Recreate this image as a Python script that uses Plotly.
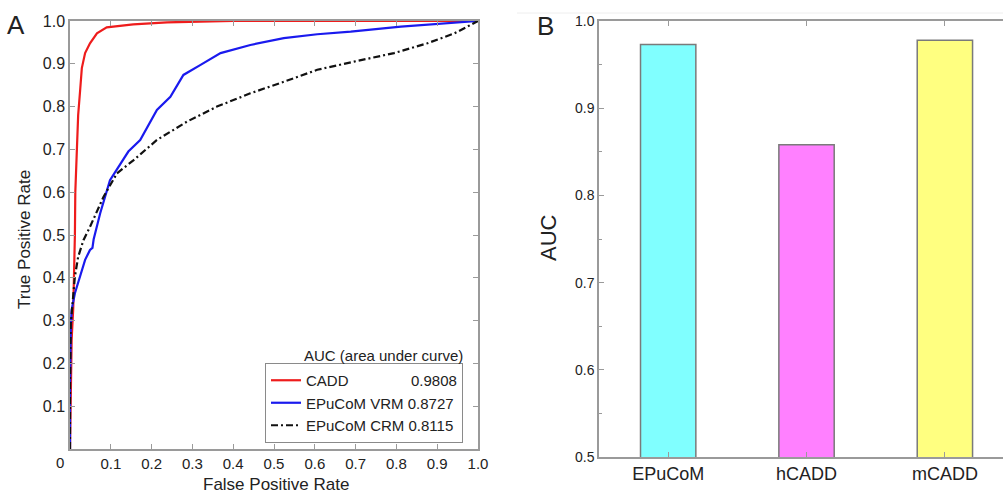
import plotly.graph_objects as go

# ---------------- data ----------------
cadd_fpr = [0, 0.002, 0.004, 0.008, 0.011, 0.012, 0.013, 0.016, 0.020, 0.025, 0.029, 0.037,
            0.049, 0.066, 0.090, 0.155, 0.238, 0.40, 1.0]
cadd_tpr = [0, 0.15, 0.255, 0.33, 0.42, 0.50, 0.60, 0.70, 0.78, 0.84, 0.89, 0.925,
            0.948, 0.971, 0.985, 0.992, 0.997, 1.0, 1.0]

vrm_fpr = [0, 0.0, 0.002, 0.004, 0.012, 0.025, 0.037, 0.049, 0.055, 0.058, 0.074, 0.098,
           0.117, 0.143, 0.172, 0.188, 0.213, 0.246, 0.278, 0.319, 0.369, 0.442, 0.524,
           0.606, 0.688, 0.811, 0.934, 1.0]
vrm_tpr = [0, 0.15, 0.286, 0.325, 0.364, 0.403, 0.442, 0.465, 0.47, 0.49, 0.551, 0.628,
           0.656, 0.695, 0.722, 0.749, 0.792, 0.823, 0.874, 0.897, 0.925, 0.944, 0.96,
           0.969, 0.975, 0.987, 0.995, 1.0]

crm_fpr = [0, 0.0, 0.002, 0.007, 0.012, 0.020, 0.033, 0.049, 0.082, 0.115, 0.156, 0.213,
           0.287, 0.36, 0.442, 0.524, 0.606, 0.696, 0.794, 0.876, 0.942, 1.0]
crm_tpr = [0, 0.15, 0.294, 0.348, 0.403, 0.449, 0.488, 0.519, 0.589, 0.644, 0.675, 0.722,
           0.765, 0.80, 0.831, 0.858, 0.886, 0.905, 0.925, 0.948, 0.971, 1.0]

curve_names = ["CADD", "EPuCoM VRM", "EPuCoM CRM"]
curve_auc = ["0.9808", "0.8727", "0.8115"]

bar_categories = ["EPuCoM", "hCADD", "mCADD"]
bar_auc = [0.973, 0.858, 0.978]
bar_colors = ["#80FFFF", "#FF80FF", "#FFFF80"]

roc_ticks = [0.1, 0.2, 0.3, 0.4, 0.5, 0.6, 0.7, 0.8, 0.9, 1.0]
roc_ticktext = ["0.1", "0.2", "0.3", "0.4", "0.5", "0.6", "0.7", "0.8", "0.9", "1.0"]

# ---------------- figure ----------------
W, H = 1003, 493
FONT = "Liberation Sans, Arial, Helvetica, sans-serif"
TXT = "#222222"
AX = "#9a9a9a"


def px(x):
    return x / W


def py(y):
    return 1 - y / H


NB = "\u00a0"
labels = [
    curve_names[0] + NB * 15 + curve_auc[0],
    curve_names[1] + NB + curve_auc[1],
    curve_names[2] + NB + curve_auc[2],
]

fig = go.Figure()
fig.add_trace(go.Scatter(x=cadd_fpr, y=cadd_tpr, mode="lines", name=labels[0],
                         line=dict(color="#ee1c1c", width=2.2), xaxis="x", yaxis="y"))
fig.add_trace(go.Scatter(x=vrm_fpr, y=vrm_tpr, mode="lines", name=labels[1],
                         line=dict(color="#1a1aee", width=2.2), xaxis="x", yaxis="y"))
fig.add_trace(go.Scatter(x=crm_fpr, y=crm_tpr, mode="lines", name=labels[2],
                         line=dict(color="#111111", width=2.2, dash="7px,3px,2px,3px"),
                         xaxis="x", yaxis="y"))

fig.add_trace(go.Bar(x=bar_categories, y=bar_auc, base=0, width=0.4,
                     marker=dict(color=bar_colors, line=dict(color="#7a7a7a", width=1.5)),
                     showlegend=False, xaxis="x2", yaxis="y2"))

axis_common = dict(showline=True, linecolor=AX, linewidth=1.5, ticks="inside",
                   tickcolor=AX, ticklen=5, showgrid=False, zeroline=False,
                   automargin=False)

fig.update_layout(
    width=W, height=H,
    margin=dict(l=0, r=0, t=0, b=0, pad=0, autoexpand=False),
    paper_bgcolor="white", plot_bgcolor="white",
    font=dict(family=FONT, color=TXT),
    xaxis=dict(domain=[px(70), px(478)], range=[0, 1], tickvals=roc_ticks,
               ticktext=roc_ticktext, mirror="ticks", anchor="y",
               tickfont=dict(family=FONT, size=15, color=TXT), **axis_common),
    yaxis=dict(domain=[py(449), py(21)], range=[0, 1], tickvals=roc_ticks,
               ticktext=roc_ticktext, mirror="ticks", anchor="x",
               tickfont=dict(family=FONT, size=16, color=TXT), **axis_common),
    xaxis2=dict(domain=[px(599), 1.0], type="category", range=[-0.5, 2.42],
                mirror="ticks", anchor="y2",
                tickfont=dict(family=FONT, size=18, color=TXT), **axis_common),
    yaxis2=dict(domain=[py(457), py(21)], range=[0.5, 1.0], dtick=0.1, tick0=0.5,
                tickformat=".1f", mirror=False, anchor="x2",
                minor=dict(dtick=0.05, ticks="inside", ticklen=3, tickcolor=AX),
                tickfont=dict(family=FONT, size=14, color=TXT), **axis_common),
    legend=dict(x=px(463), xanchor="right", y=py(363), yanchor="top",
                bgcolor="white", bordercolor="#8a8a8a", borderwidth=1,
                font=dict(family=FONT, size=15, color=TXT),
                itemwidth=30, tracegroupgap=0),
    showlegend=True,
)

ann = [
    dict(text="A", x=px(16), y=py(25), size=26),
    dict(text="B", x=px(545), y=py(26), size=26),
    dict(text="0", x=px(60), y=py(462), size=15),
    dict(text="False Positive Rate", x=px(276), y=py(484), size=17),
    dict(text="True Positive Rate", x=px(24), y=py(240), size=17, angle=-90),
    dict(text="AUC", x=px(548), y=py(238), size=22, angle=-90),
]
for a in ann:
    fig.add_annotation(text=a["text"], x=a["x"], y=a["y"], xref="paper", yref="paper",
                       xanchor="center", yanchor="middle", showarrow=False,
                       textangle=a.get("angle", 0),
                       font=dict(family=FONT, size=a["size"], color=TXT))

fig.add_annotation(text="AUC (area under curve)", x=px(465), y=py(355), xref="paper",
                   yref="paper", xanchor="right", yanchor="middle", showarrow=False,
                   font=dict(family=FONT, size=15, color=TXT))

# faint scan line at the top of panel B
fig.add_shape(type="line", xref="paper", yref="paper", x0=px(517), x1=1.0,
              y0=py(13), y1=py(13), line=dict(color="#eeeeee", width=1))

fig.write_html(
    "out.html",
    config={"displayModeBar": False},
    post_script=(
        "document.documentElement.style.margin='0';"
        "document.documentElement.style.overflow='hidden';"
        "document.body.style.margin='0';"
        "document.body.style.overflow='hidden';"
    ),
)
